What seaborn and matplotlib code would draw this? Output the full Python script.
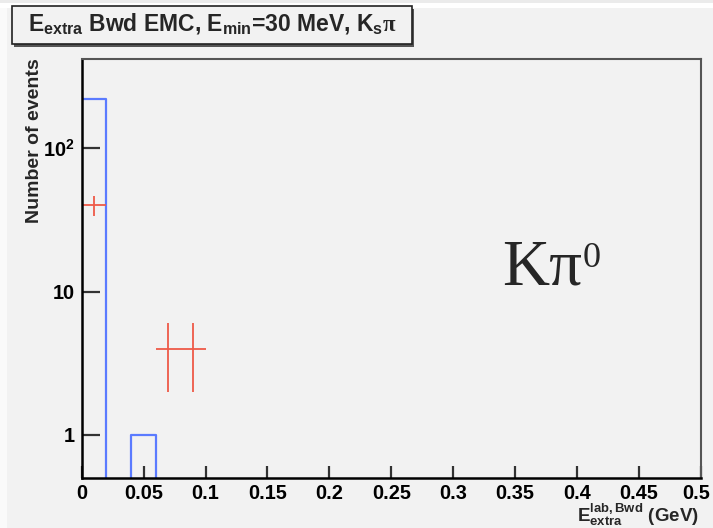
import numpy as np
import pandas as pd
import matplotlib
matplotlib.use("Agg")
import matplotlib.pyplot as plt
import matplotlib.transforms as mtransforms
from matplotlib.patches import Rectangle
from matplotlib.ticker import FixedLocator, FixedFormatter, MultipleLocator
import seaborn as sns

# ---- data ----
bin_edges = [round(0.02 * i, 2) for i in range(26)]
bin_centers = [round(0.01 + 0.02 * i, 2) for i in range(25)]
bwd_counts = [222, 0, 1, 0, 0, 0, 0, 0, 0, 0, 0, 0, 0, 0, 0, 0, 0, 0, 0, 0, 0, 0, 0, 0, 0]

pts_x = [0.01, 0.07, 0.09]
pts_y = [40, 4, 4]
pts_xerr = [0.01, 0.01, 0.01]
pts_yerr_lo = [6.3, 2.0, 2.0]
pts_yerr_hi = [6.3, 2.0, 2.0]

y_major = [1, 10, 100]
y_major_labels = ["1", "10", "10$^{2}$"]
x_major = [0, 0.05, 0.1, 0.15, 0.2, 0.25, 0.3, 0.35, 0.4, 0.45, 0.5]
x_major_labels = ["0", "0.05", "0.1", "0.15", "0.2", "0.25", "0.3", "0.35", "0.4", "0.45", "0.5"]

title_text = (r"E$_{\mathbf{extra}}$ Bwd EMC, E$_{\mathbf{min}}$=30 MeV, "
              r"K$_{\mathbf{s}}$$\pi$")
xlabel_text = r"E$^{\mathbf{lab,Bwd}}_{\mathbf{extra}}$ (GeV)"
ylabel_text = "Number of events"
channel_text = "Kπ"
channel_sup = "0"

# ---- style ----
bg = "#f2f2f2"
sns.set_theme(style="white")
plt.rcParams["font.family"] = ["Liberation Sans", "DejaVu Sans"]
plt.rcParams["font.weight"] = "bold"
plt.rcParams["mathtext.fontset"] = "custom"
plt.rcParams["mathtext.rm"] = "Liberation Sans:bold"
plt.rcParams["mathtext.bf"] = "Liberation Sans:bold"
plt.rcParams["mathtext.it"] = "Liberation Serif"

W, H = 713, 528
fig = plt.figure(figsize=(W / 100, H / 100), dpi=100, facecolor=bg)

# window frame strips
fig.patches.append(Rectangle((0, 1 - 8 / H), 1, 5 / H, transform=fig.transFigure,
                             facecolor="white", edgecolor="none", zorder=-5))
fig.patches.append(Rectangle((0, 1 - 3 / H), 1, 3 / H, transform=fig.transFigure,
                             facecolor="#ebebeb", edgecolor="none", zorder=-5))
fig.patches.append(Rectangle((0, 0), 7 / W, 1 - 8 / H, transform=fig.transFigure,
                             facecolor="#fafafa", edgecolor="none", zorder=-5))

left, right, bottom, top = 81.7, 700.7, 478, 59
ax = fig.add_axes([left / W, 1 - bottom / H, (right - left) / W, (bottom - top) / H])
ax.set_facecolor(bg)
ax.set_yscale("log")

df = pd.DataFrame({"x": bin_centers, "w": bwd_counts})
sns.histplot(data=df, x="x", weights="w", bins=bin_edges, element="step",
             fill=False, color="#5b7bff", linewidth=1.6, ax=ax)

ax.errorbar(pts_x, pts_y, xerr=pts_xerr, yerr=[pts_yerr_lo, pts_yerr_hi],
            fmt="none", ecolor="#ee5a48", elinewidth=1.3, capsize=0)

ax.set_xlim(0, 0.5)
ax.set_ylim(0.5, 420)

# ticks
ax.yaxis.set_major_locator(FixedLocator(y_major))
ax.yaxis.set_major_formatter(FixedFormatter(y_major_labels))
minors = [m * d for d in (1, 10, 100) for m in range(2, 10)] + [0.6, 0.7, 0.8, 0.9]
ax.yaxis.set_minor_locator(FixedLocator(minors))
ax.yaxis.set_minor_formatter(FixedFormatter([""] * len(minors)))
ax.xaxis.set_major_locator(FixedLocator(x_major))
ax.xaxis.set_major_formatter(FixedFormatter(x_major_labels))
ax.xaxis.set_minor_locator(MultipleLocator(0.01))

ax.tick_params(axis="both", which="both", direction="in", colors="#333333",
               labelcolor="black", labelsize=14.3)
ax.tick_params(axis="y", which="major", length=13, width=1.6, pad=5)
ax.tick_params(axis="y", which="minor", length=6.5, width=1.3)
ax.tick_params(axis="x", which="major", length=8.6, width=1.6, pad=4)
ax.tick_params(axis="x", which="minor", length=4.3, width=1.3)
ax.tick_params(left=True, bottom=True, top=False, right=False)
xlabels = ax.get_xticklabels()
for lab in xlabels + ax.get_yticklabels():
    lab.set_fontweight("bold")
# keep the last x label inside the canvas
xlabels[-1].set_transform(xlabels[-1].get_transform() +
                          mtransforms.ScaledTranslation(-3 / 72, 0, fig.dpi_scale_trans))

for side in ("left", "bottom"):
    ax.spines[side].set_color("black")
    ax.spines[side].set_linewidth(1.8)
for side in ("top", "right"):
    ax.spines[side].set_color("#555555")
    ax.spines[side].set_linewidth(1.5)
ax.set_xlabel("")
ax.set_ylabel("")

# axis titles
fig.text(35 / W, 1 - 58 / H, ylabel_text, rotation=90, ha="center", va="top",
         fontsize=14, fontweight="bold")
fig.text(699 / W, 0.5 / H, xlabel_text, ha="right", va="bottom",
         fontsize=13.5, fontweight="bold")

# channel label
ktxt = ax.text(0.680, 0.461, channel_text, transform=ax.transAxes, ha="left",
               va="baseline", fontsize=47, family="Liberation Serif",
               fontweight="normal")
ax.annotate(channel_sup, xy=(1.0, 0.95), xycoords=ktxt, ha="left", va="top",
            fontsize=26, family="Liberation Serif", fontweight="normal")

# title box with shadow
bx0, by0, bx1, by1 = 12, 6, 412, 44
fig.patches.append(Rectangle(((bx0 + 2) / W, 1 - (by1 + 2.5) / H), (bx1 - bx0) / W,
                             (by1 - by0) / H, transform=fig.transFigure,
                             facecolor="#555555", edgecolor="none", zorder=1))
fig.patches.append(Rectangle((bx0 / W, 1 - by1 / H), (bx1 - bx0) / W,
                             (by1 - by0) / H, transform=fig.transFigure,
                             facecolor=bg, edgecolor="#222222", linewidth=1.2, zorder=2))
fig.text(28 / W, 1 - 30 / H, title_text, ha="left", va="baseline",
         fontsize=16.5, fontweight="bold", zorder=3)

fig.savefig("out.png", dpi=100, facecolor=bg)
